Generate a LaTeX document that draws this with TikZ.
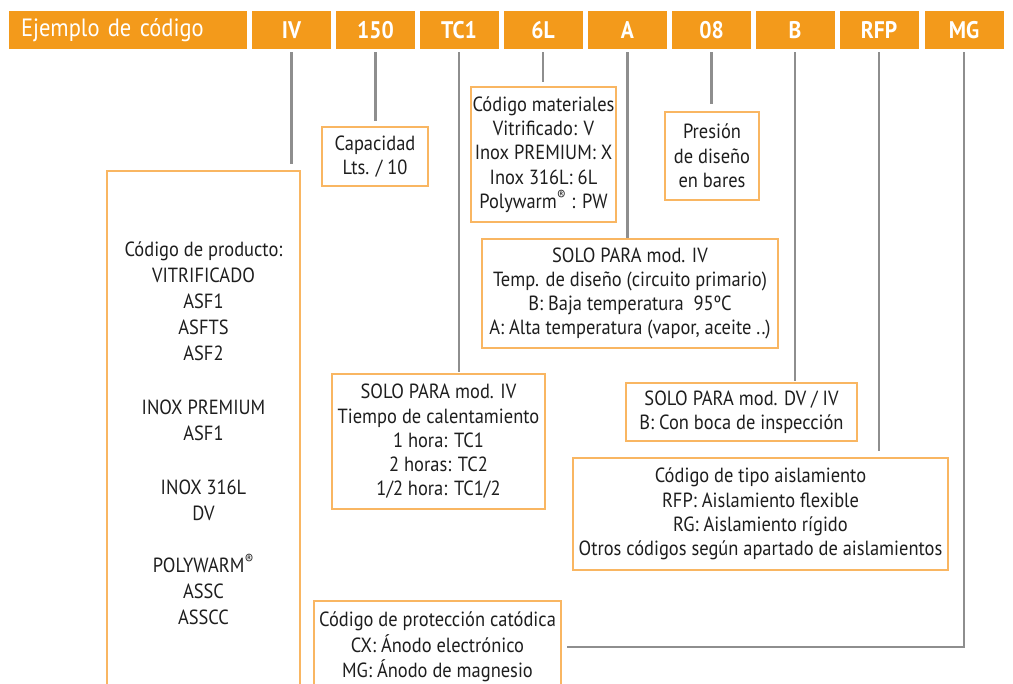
\documentclass[tikz,border=0pt]{standalone}
\usepackage{fontspec}
\setmainfont[FakeStretch=0.9]{PT Sans}

\definecolor{naranja}{HTML}{F39A1B}
\definecolor{borde}{HTML}{F9B662}
\definecolor{linea}{HTML}{8E8E8E}
\definecolor{texto}{HTML}{1E1E1E}

\begin{document}
\begin{tikzpicture}[x=1pt,y=-1pt,
  cell/.style={fill=naranja,text=white,minimum height=38pt,minimum width=79pt,inner sep=0pt,font=\fontsize{24}{26}\selectfont\bfseries},
  title cell/.style={fill=naranja,text=white,minimum height=38pt,text width=214pt,inner xsep=12pt,inner ysep=0pt,align=left,font=\fontsize{25}{26}\selectfont},
  info box/.style={draw=borde,line width=2pt,fill=white,align=center,text=texto,inner sep=0pt,font=\fontsize{20.5}{24.3}\selectfont},
  conn/.style={draw=linea,line width=2.2pt,shorten <=3pt}]

  \useasboundingbox (0,0) rectangle (1013,684);
  \clip (0,0) rectangle (1013,684);

  % header
  \node[title cell] (ejemplo) at (128,30) {Ejemplo de código};
  \node[cell] (hIV) at (291.5,30) {IV};
  \node[cell] (h150) at (375.5,30) {150};
  \node[cell] (hTC1) at (459,30) {TC1};
  \node[cell] (h6L) at (543,30) {6L};
  \node[cell] (hA) at (627.5,30) {A};
  \node[cell] (h08) at (711.5,30) {08};
  \node[cell] (hB) at (795,30) {B};
  \node[cell] (hRFP) at (879,30) {RFP};
  \node[cell] (hMG) at (964,30) {MG};

  % boxes
  \node[info box,minimum width=193pt,minimum height=524pt,font=\fontsize{20.5}{26}\selectfont] (producto) at (203.5,433)
    {Código de producto:\\VITRIFICADO\\ASF1\\ASFTS\\ASF2\\[28pt]INOX PREMIUM\\ASF1\\[28pt]INOX 316L\\DV\\[26pt]POLYWARM\textsuperscript{®}\\ASSC\\ASSCC};
  \node[info box,minimum width=106pt,minimum height=59pt] (capacidad) at (375,156.5)
    {Capacidad\\Lts. / 10};
  \node[info box,minimum width=145pt,minimum height=135pt] (materiales) at (543.5,154.5)
    {Código materiales\\Vitrificado: V\\Inox PREMIUM: X\\Inox 316L: 6L\\Polywarm\textsuperscript{®} : PW};
  \node[info box,minimum width=94pt,minimum height=88pt] (presion) at (712,156)
    {Presión\\de diseño\\en bares};
  \node[info box,minimum width=296pt,minimum height=109pt] (temp) at (630,293.5)
    {SOLO PARA mod. IV\\Temp. de diseño (circuito primario)\\B: Baja temperatura~~95ºC\\A: Alta temperatura (vapor, aceite ..)};
  \node[info box,minimum width=213pt,minimum height=135pt] (calentamiento) at (438.5,441.5)
    {SOLO PARA mod. IV\\Tiempo de calentamiento\\1 hora: TC1\\2 horas: TC2\\1/2 hora: TC1/2};
  \node[info box,minimum width=231pt,minimum height=58pt] (boca) at (741.5,412)
    {SOLO PARA mod. DV / IV\\B: Con boca de inspección};
  \node[info box,minimum width=375pt,minimum height=112pt] (aislamiento) at (760.5,514)
    {Código de tipo aislamiento\\RFP: Aislamiento flexible\\RG: Aislamiento rígido\\Otros códigos según apartado de aislamientos};
  \node[info box,minimum width=247pt,minimum height=92pt,font=\fontsize{20.5}{25.5}\selectfont] (proteccion) at (437.5,647)
    {Código de protección catódica\\CX: Ánodo electrónico\\MG: Ánodo de magnesio};

  % connectors
  \draw[conn,shorten >=6pt] (hIV.south) -- (hIV.south |- producto.north);
  \draw[conn,shorten >=5pt] (h150.south) -- (h150.south |- capacidad.north);
  \draw[conn,shorten >=1pt] (hTC1.south) -- (hTC1.south |- calentamiento.north);
  \draw[conn,shorten >=4pt] (h6L.south) -- (h6L.south |- materiales.north);
  \draw[conn] (hA.south) -- (hA.south |- temp.north);
  \draw[conn,shorten >=7pt] (h08.south) -- (h08.south |- presion.north);
  \draw[conn,shorten >=1pt] (hB.south) -- (hB.south |- boca.north);
  \draw[conn,shorten >=6pt] (hRFP.south) -- (hRFP.south |- aislamiento.north);
  \draw[conn,shorten >=5pt] (hMG.south) |- (proteccion.east);
\end{tikzpicture}
\end{document}
